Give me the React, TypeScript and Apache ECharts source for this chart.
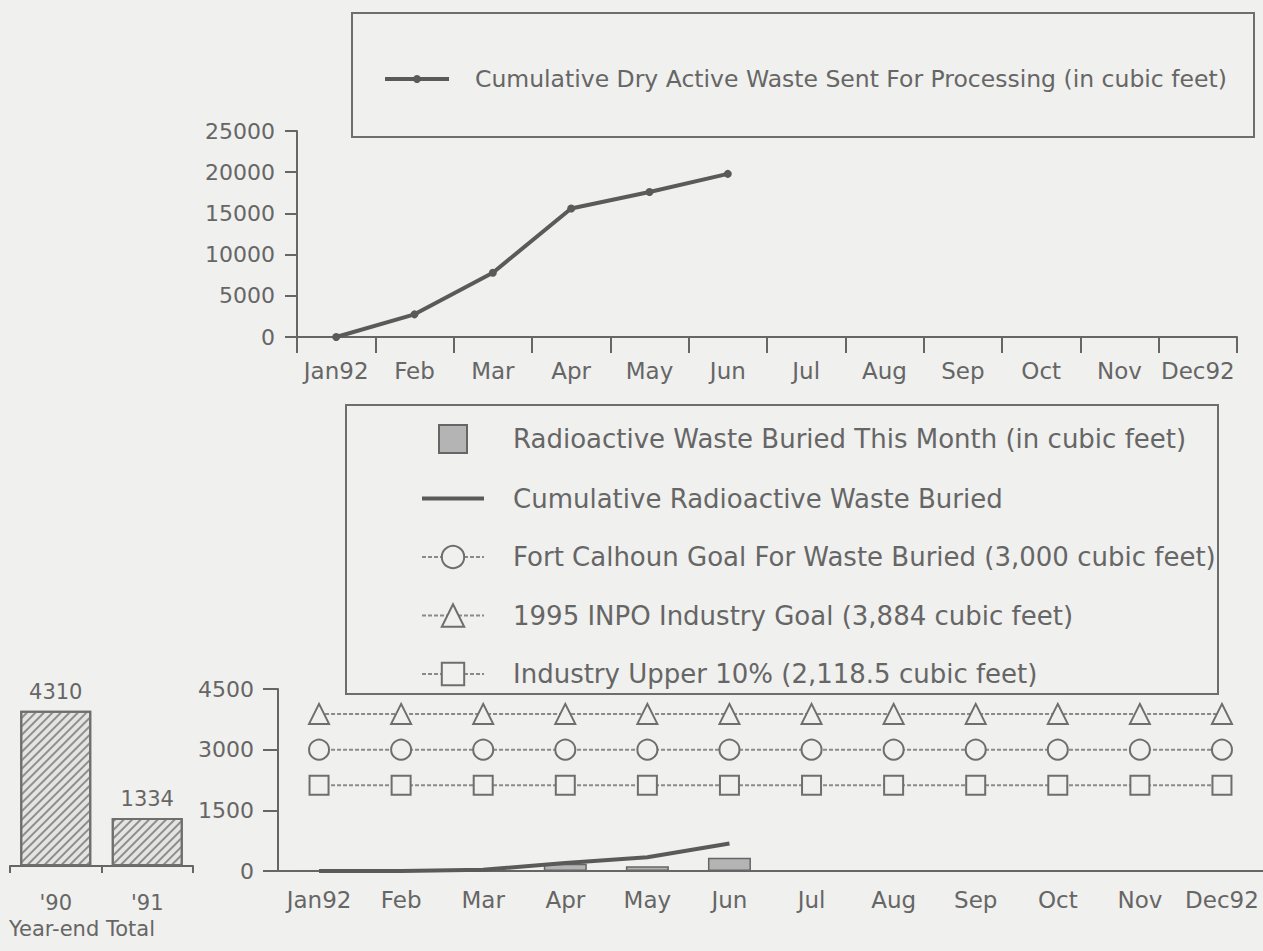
import React, { useEffect, useRef } from "react";
import * as echarts from "echarts";

const months = ["Jan92", "Feb", "Mar", "Apr", "May", "Jun", "Jul", "Aug", "Sep", "Oct", "Nov", "Dec92"];
const dryActiveWaste = [0, 2750, 7800, 15600, 17600, 19800];
const buriedThisMonth = [0, 0, 30, 180, 120, 330];
const buriedCumulative = [0, 0, 30, 200, 340, 680];
const fortCalhounGoal = [3000, 3000, 3000, 3000, 3000, 3000, 3000, 3000, 3000, 3000, 3000, 3000];
const inpoGoal = [3884, 3884, 3884, 3884, 3884, 3884, 3884, 3884, 3884, 3884, 3884, 3884];
const upper10 = [2118.5, 2118.5, 2118.5, 2118.5, 2118.5, 2118.5, 2118.5, 2118.5, 2118.5, 2118.5, 2118.5, 2118.5];
const yearEndLabels = ["'90", "'91"];
const yearEndTotals = [4310, 1334];
const topYTicks = [0, 5000, 10000, 15000, 20000, 25000];
const bottomYTicks = [0, 1500, 3000, 4500];

const S_DRY = "Cumulative Dry Active Waste Sent For Processing (in cubic feet)";
const S_MONTH = "Radioactive Waste Buried This Month (in cubic feet)";
const S_CUM = "Cumulative Radioactive Waste Buried";
const S_FCS = "Fort Calhoun Goal For Waste Buried (3,000 cubic feet)";
const S_INPO = "1995 INPO Industry Goal (3,884 cubic feet)";
const S_UP = "Industry Upper 10% (2,118.5 cubic feet)";
const YEAR_END = "Year-end Total";

const BG = "#f0f0ee";
const TEXT = "#666666";
const LINE = "#5a5a5a";
const AXIS = "#666666";
const FONT = "DejaVu Sans";

export default function App() {
  const ref = useRef<HTMLDivElement>(null);
  useEffect(() => {
    if (!ref.current) return;
    const chart = echarts.init(ref.current, null, { renderer: "svg" });
    const axisLine = { show: true, lineStyle: { color: AXIS, width: 2 } };
    const goalLine = { color: "#8a8a8a", width: 2, type: [4, 2] as any };
    const goalItem = { color: BG, borderColor: "#6e6e6e", borderWidth: 2 };
    const plain = (v: number) => String(v);
    chart.setOption({
      animation: false,
      backgroundColor: BG,
      textStyle: { fontFamily: FONT, color: TEXT },
      grid: [
        { left: 297, top: 131, width: 940, height: 206 },
        { left: 278, top: 689, width: 987, height: 182 },
        { left: 10, top: 704, width: 183, height: 162 },
      ],
      legend: [
        {
          data: [S_DRY],
          left: 378,
          top: 60,
          itemWidth: 64,
          itemHeight: 10,
          selectedMode: false,
          lineStyle: { width: 4, color: LINE },
          textStyle: { fontFamily: FONT, fontSize: 23.5, color: TEXT, lineHeight: 28, padding: [0, 0, 0, 21] },
        },
        {
          data: [
            { name: S_MONTH, icon: "path://M0,0H10V10H0Z" },
            { name: S_CUM, icon: "path://M0,0H62V4H0Z" },
            S_FCS,
            S_INPO,
            S_UP,
          ],
          orient: "vertical",
          left: 416,
          top: 419,
          itemWidth: 62,
          itemHeight: 28,
          itemGap: 30.5,
          symbolKeepAspect: true,
          selectedMode: false,
          textStyle: { fontFamily: FONT, fontSize: 26, color: TEXT, lineHeight: 28, padding: [0, 0, 0, 24] },
        },
      ],
      xAxis: [
        {
          gridIndex: 0,
          type: "category",
          data: months,
          boundaryGap: true,
          axisLine,
          axisTick: { show: true, length: 16, interval: 0, lineStyle: { color: AXIS, width: 2 } },
          axisLabel: { fontSize: 23, color: TEXT, margin: 22, interval: 0, fontFamily: FONT },
        },
        {
          gridIndex: 1,
          type: "category",
          data: months,
          boundaryGap: true,
          axisLine,
          axisTick: { show: false },
          axisLabel: { fontSize: 23, color: TEXT, margin: 17, interval: 0, fontFamily: FONT },
        },
        {
          gridIndex: 2,
          type: "category",
          data: yearEndLabels,
          boundaryGap: true,
          axisLine,
          axisTick: { show: true, length: 7, interval: 0, lineStyle: { color: AXIS, width: 2 } },
          axisLabel: { fontSize: 21, color: TEXT, margin: 26, fontFamily: FONT },
        },
      ],
      yAxis: [
        {
          gridIndex: 0,
          type: "value",
          min: topYTicks[0],
          max: topYTicks[topYTicks.length - 1],
          interval: topYTicks[1] - topYTicks[0],
          axisLine,
          axisTick: { show: true, length: 12, lineStyle: { color: AXIS, width: 2 } },
          axisLabel: { fontSize: 22, color: TEXT, margin: 22, fontFamily: FONT, formatter: plain },
          splitLine: { show: false },
        },
        {
          gridIndex: 1,
          type: "value",
          min: bottomYTicks[0],
          max: bottomYTicks[bottomYTicks.length - 1],
          interval: bottomYTicks[1] - bottomYTicks[0],
          axisLine,
          axisTick: { show: true, length: 15, lineStyle: { color: AXIS, width: 2 } },
          axisLabel: { fontSize: 22, color: TEXT, margin: 24, fontFamily: FONT, formatter: plain },
          splitLine: { show: false },
        },
        {
          gridIndex: 2,
          type: "value",
          min: 0,
          max: bottomYTicks[bottomYTicks.length - 1],
          show: false,
          splitLine: { show: false },
        },
      ],
      graphic: [
        {
          type: "rect",
          silent: true,
          shape: { x: 352, y: 13, width: 902, height: 124 },
          style: { fill: "none", stroke: "#6e6e6e", lineWidth: 2 },
        },
        {
          type: "rect",
          silent: true,
          shape: { x: 346, y: 405, width: 872, height: 289 },
          style: { fill: "none", stroke: "#6e6e6e", lineWidth: 2 },
        },
        {
          type: "text",
          silent: true,
          left: 9,
          top: 918,
          style: { text: YEAR_END, fontSize: 21, fill: TEXT, fontFamily: FONT },
        },
      ],
      series: [
        {
          name: S_DRY,
          type: "line",
          xAxisIndex: 0,
          yAxisIndex: 0,
          data: dryActiveWaste,
          symbol: "circle",
          symbolSize: 8,
          lineStyle: { color: LINE, width: 4 },
          itemStyle: { color: LINE },
        },
        {
          name: S_MONTH,
          type: "bar",
          xAxisIndex: 1,
          yAxisIndex: 1,
          data: buriedThisMonth,
          barWidth: 43,
          itemStyle: { color: "#b4b4b4", borderColor: "#666", borderWidth: 1.5 },
        },
        {
          name: S_CUM,
          type: "line",
          xAxisIndex: 1,
          yAxisIndex: 1,
          data: buriedCumulative,
          symbol: "none",
          lineStyle: { color: LINE, width: 4 },
          itemStyle: { color: LINE },
        },
        {
          name: S_FCS,
          type: "line",
          xAxisIndex: 1,
          yAxisIndex: 1,
          data: fortCalhounGoal,
          symbol: "circle",
          symbolSize: 20,
          lineStyle: goalLine,
          itemStyle: goalItem,
        },
        {
          name: S_INPO,
          type: "line",
          xAxisIndex: 1,
          yAxisIndex: 1,
          data: inpoGoal,
          symbol: "triangle",
          symbolSize: 20,
          lineStyle: goalLine,
          itemStyle: goalItem,
        },
        {
          name: S_UP,
          type: "line",
          xAxisIndex: 1,
          yAxisIndex: 1,
          data: upper10,
          symbol: "rect",
          symbolSize: 19,
          lineStyle: goalLine,
          itemStyle: goalItem,
        },
        {
          name: YEAR_END,
          type: "bar",
          xAxisIndex: 2,
          yAxisIndex: 2,
          data: yearEndTotals,
          barWidth: 71,
          label: { show: true, position: "top", distance: 8, fontSize: 21, color: TEXT, fontFamily: FONT },
          itemStyle: {
            color: "#e4e4e2",
            borderColor: "#6e6e6e",
            borderWidth: 2,
            decal: {
              symbol: "rect",
              symbolSize: 1,
              dashArrayX: [1, 0],
              dashArrayY: [1.5, 4],
              rotation: -Math.PI / 4,
              color: "#8e8e8e",
            },
          },
        },
      ],
    });
    return () => chart.dispose();
  }, []);
  return (
    <div
      ref={ref}
      style={{ position: "absolute", left: 0, top: 0, width: 1263, height: 951, background: BG }}
    />
  );
}
